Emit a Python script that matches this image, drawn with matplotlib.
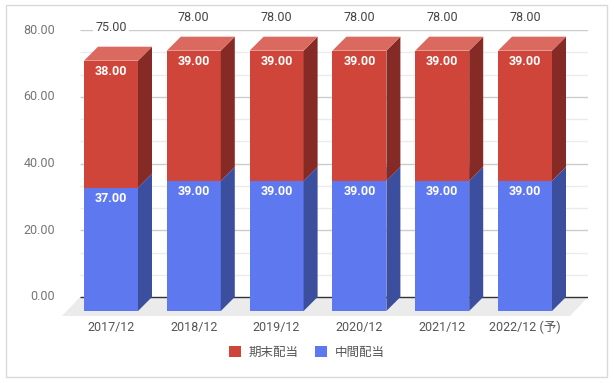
import matplotlib
matplotlib.use("Agg")
import matplotlib.pyplot as plt
from matplotlib.patches import Polygon, Rectangle

plt.rcParams['font.family'] = ['Roboto', 'Noto Sans CJK JP', 'DejaVu Sans']

# data
categories = ["2017/12", "2018/12", "2019/12", "2020/12", "2021/12", "2022/12 (予)"]
interim = [37.00, 39.00, 39.00, 39.00, 39.00, 39.00]   # 中間配当
year_end = [38.00, 39.00, 39.00, 39.00, 39.00, 39.00]  # 期末配当
series_names = ["期末配当", "中間配当"]
y_ticks = [0, 20, 40, 60, 80]

# colours (front, top, side)
red = ("#CF4539", "#DA6A60", "#862A25")
blue = ("#5E79F0", "#8A9EF4", "#3C4E9E")

W, H = 614, 383
fig = plt.figure(figsize=(W / 100, H / 100), dpi=100)

# axes placed in pixels: back plane 0 at y=297, 80 at y=30
px_per_val = (297 - 30) / 80
px_per_cat = 82.8
x0_px = 111  # front centre of the first bar
left_px, right_px, bot_px, top_px = 62, 588, 317, 30
ax = fig.add_axes([left_px / W, (H - bot_px) / H,
                   (right_px - left_px) / W, (bot_px - top_px) / H])
ax.set_xlim((left_px - x0_px) / px_per_cat, (right_px - x0_px) / px_per_cat)
ax.set_ylim((297 - bot_px) / px_per_val, 80)
ax.axis('off')

DX = 14 / px_per_cat     # bar depth, x
DY = 14 / px_per_val     # bar depth, y
bw = 54 / px_per_cat     # bar width
grid_l = (80 - x0_px) / px_per_cat
grid_r = (588 - x0_px) / px_per_cat
floor_dx = 18 / px_per_cat
floor_dy = 19 / px_per_val

# floor
ax.add_patch(Polygon([(grid_l, 0), (grid_r, 0), (grid_r - floor_dx, -floor_dy),
                      (grid_l - floor_dx, -floor_dy)], closed=True,
                     facecolor="#EBEBEB", edgecolor="none", zorder=1))

# gridlines
for k in range(13):
    v = k * 20 / 3
    if k % 3 == 0:
        col = "#333333" if v == 0 else "#CCCCCC"
    else:
        col = "#EBEBEB"
    ax.plot([grid_l, grid_r], [v, v], color=col, lw=1, zorder=0.5 if v else 1.5,
            solid_capstyle='butt')
for v in y_ticks:
    ax.text(grid_l - 25 / px_per_cat, v, f"{v:.2f}", ha='right', va='center',
            fontsize=9, color="#757575")


def box(x, b, t, cols, z):
    xl, xr = x - bw / 2, x + bw / 2
    fb, ft = b - DY, t - DY
    ax.add_patch(Polygon([(xl, fb), (xr, fb), (xr, ft), (xl, ft)],
                         facecolor=cols[0], edgecolor='none', zorder=z))
    ax.add_patch(Polygon([(xr, fb), (xr + DX, b), (xr + DX, t), (xr, ft)],
                         facecolor=cols[2], edgecolor='none', zorder=z))
    ax.add_patch(Polygon([(xl, ft), (xr, ft), (xr + DX, t), (xl + DX, t)],
                         facecolor=cols[1], edgecolor='none', zorder=z))


for i, (a, b) in enumerate(zip(interim, year_end)):
    box(i, 0, a, blue, 3)
    box(i, a, a + b, red, 3)
    lab_off = 10.5 / px_per_val
    ax.text(i, a - DY - lab_off, f"{a:.2f}", ha='center', va='center',
            fontsize=9, fontweight='bold', color='white', zorder=5)
    ax.text(i, a + b - DY - lab_off, f"{b:.2f}", ha='center', va='center',
            fontsize=9, fontweight='bold', color='white', zorder=5)
    ax.text(i, a + b + 19 / px_per_val, f"{a + b:.2f}", ha='center', va='center',
            fontsize=9, color="#444444", zorder=5, clip_on=False,
            bbox=dict(facecolor='white', edgecolor='none', pad=1.5))
    ax.text(i, -DY - 16 / px_per_val, categories[i], ha='center', va='center',
            fontsize=9, color="#555555", clip_on=False)

# legend
handles = [Rectangle((0, 0), 1, 1, facecolor=red[0]),
           Rectangle((0, 0), 1, 1, facecolor=blue[0])]
fig.legend(handles, series_names, loc='center', bbox_to_anchor=(307 / W, 1 - 352 / H),
           ncol=2, frameon=False, fontsize=9, handlelength=0.95, handleheight=0.95,
           handletextpad=0.65, columnspacing=1.3, labelcolor="#555555")

# outer border
fig.add_artist(Rectangle((6 / W, 1 - 377 / H), 601 / W, 372 / H,
                         transform=fig.transFigure, fill=False,
                         edgecolor="#D9D9D9", lw=1))

fig.savefig("out.png", dpi=100)
